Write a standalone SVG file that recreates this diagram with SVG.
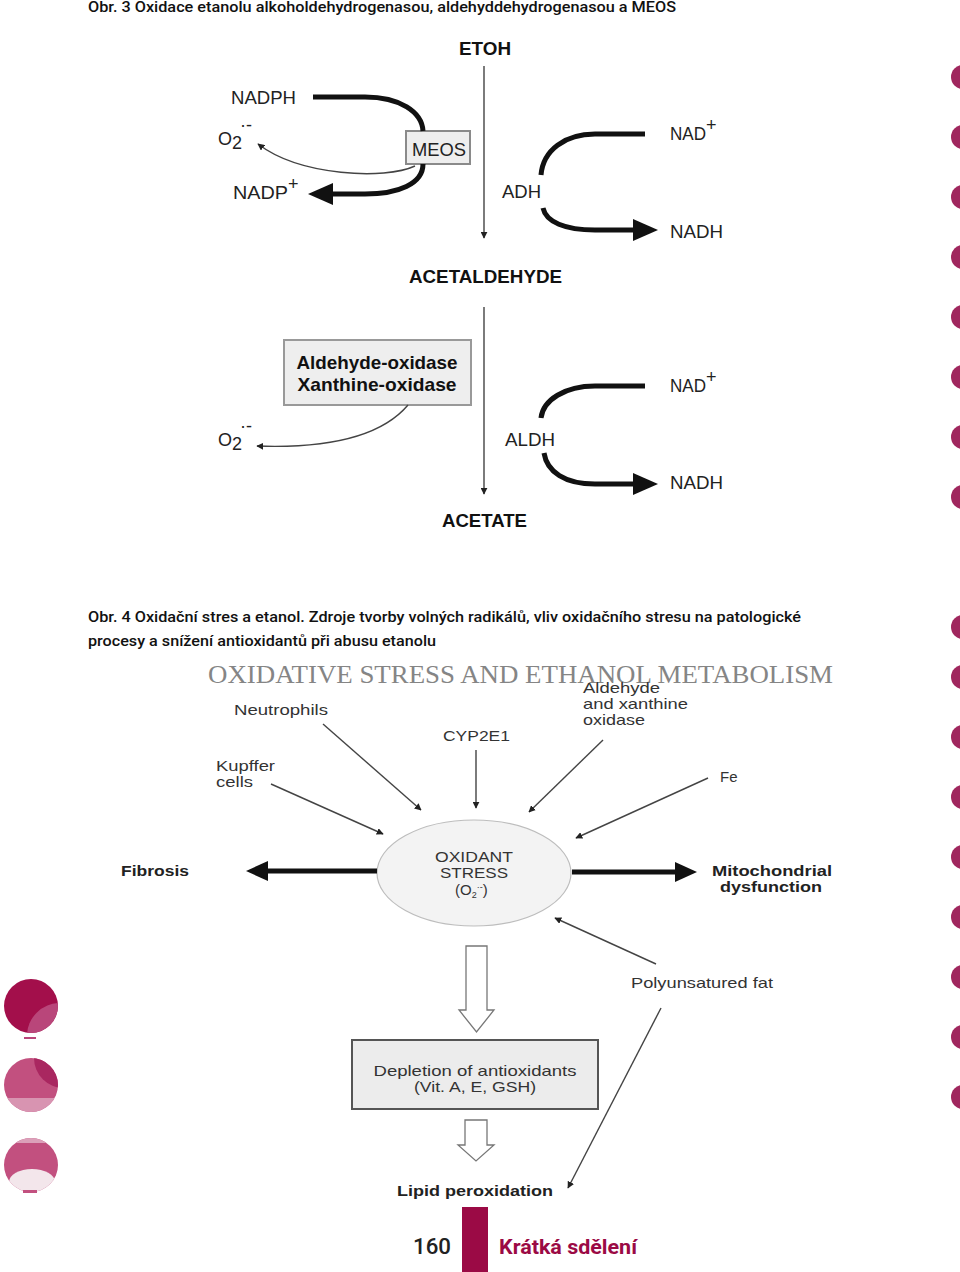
<svg xmlns="http://www.w3.org/2000/svg" width="960" height="1272" viewBox="0 0 960 1272">
<defs>
<style>
.cap{font-family:Roboto,"Liberation Sans",Arial,sans-serif;font-size:15px;font-weight:500;fill:#111}
.lb{font-family:"Liberation Sans",Arial,sans-serif;font-size:18px;fill:#222}
.bd{font-family:"Liberation Sans",Arial,sans-serif;font-size:19px;font-weight:bold;fill:#111}
.l4{font-family:"Liberation Sans",Arial,sans-serif;font-size:15px;fill:#333}
.b4{font-family:"Liberation Sans",Arial,sans-serif;font-size:15px;font-weight:bold;fill:#222}
.thick{fill:none;stroke:#111;stroke-width:5}
.thin{fill:none;stroke:#444;stroke-width:1.4}
.dot{fill:#a0275e}
</style>
<marker id="ah" viewBox="0 0 10 10" refX="9" refY="5" markerWidth="7" markerHeight="7" markerUnits="userSpaceOnUse" orient="auto">
<path d="M0,0 L10,5 L0,10 Z" fill="#222"/>
</marker>
<clipPath id="c1"><circle cx="31" cy="1006" r="27"/></clipPath>
<clipPath id="c2"><circle cx="31" cy="1085" r="27"/></clipPath>
<clipPath id="c3"><circle cx="31" cy="1165" r="27"/></clipPath>
</defs>
<rect width="960" height="1272" fill="#fff"/>

<!-- captions -->
<text class="cap" x="88" y="12" textLength="588" lengthAdjust="spacingAndGlyphs">Obr. 3 Oxidace etanolu alkoholdehydrogenasou, aldehyddehydrogenasou a MEOS</text>
<text class="cap" x="88" y="622" textLength="713" lengthAdjust="spacingAndGlyphs">Obr. 4 Oxidační stres a etanol. Zdroje tvorby volných radikálů, vliv oxidačního stresu na patologické</text>
<text class="cap" x="88" y="646" textLength="348" lengthAdjust="spacingAndGlyphs">procesy a snížení antioxidantů při abusu etanolu</text>

<!-- right dots -->
<g id="dots">
<circle class="dot" cx="963" cy="77" r="12"/><circle class="dot" cx="963" cy="137" r="12"/>
<circle class="dot" cx="963" cy="197" r="12"/><circle class="dot" cx="963" cy="257" r="12"/>
<circle class="dot" cx="963" cy="317" r="12"/><circle class="dot" cx="963" cy="377" r="12"/>
<circle class="dot" cx="963" cy="437" r="12"/><circle class="dot" cx="963" cy="497" r="12"/>
<circle class="dot" cx="963" cy="627" r="12"/><circle class="dot" cx="963" cy="677" r="12"/>
<circle class="dot" cx="963" cy="737" r="12"/><circle class="dot" cx="963" cy="797" r="12"/>
<circle class="dot" cx="963" cy="857" r="12"/><circle class="dot" cx="963" cy="917" r="12"/>
<circle class="dot" cx="963" cy="977" r="12"/><circle class="dot" cx="963" cy="1037" r="12"/>
<circle class="dot" cx="963" cy="1097" r="12"/>
</g>

<!-- left decorative circles -->
<g id="circles">
<circle cx="31" cy="1006" r="27" fill="#a30f4b"/>
<g clip-path="url(#c1)"><circle cx="60" cy="1036" r="33" fill="#b9467a"/><circle cx="62" cy="1040" r="14" fill="#a51550"/></g>
<rect x="24" y="1037" width="12" height="2" fill="#b9467a"/>
<circle cx="31" cy="1085" r="27" fill="#c2507f"/>
<g clip-path="url(#c2)"><circle cx="64" cy="1058" r="30" fill="#a92760"/><rect x="0" y="1098" width="60" height="20" fill="#d894b1"/></g>
<circle cx="31" cy="1165" r="27" fill="#c2507f"/>
<g clip-path="url(#c3)"><rect x="0" y="1136" width="60" height="7" fill="#dba0b9"/><ellipse cx="32" cy="1182" rx="23" ry="13" fill="#f3e6eb"/></g>
<rect x="23" y="1190" width="14" height="3" fill="#c2507f"/>
</g>

<!-- Figure 3 nodes -->
<g id="etoh"><text class="bd" x="459" y="55" textLength="52" lengthAdjust="spacingAndGlyphs">ETOH</text></g>
<g id="acetaldehyde"><text class="bd" x="409" y="283" textLength="153" lengthAdjust="spacingAndGlyphs">ACETALDEHYDE</text></g>
<g id="acetate"><text class="bd" x="442" y="527" textLength="85" lengthAdjust="spacingAndGlyphs">ACETATE</text></g>
<g id="nadph"><text class="lb" x="231" y="104" textLength="65" lengthAdjust="spacingAndGlyphs">NADPH</text></g>
<g id="nadp"><text class="lb" x="233" y="199" textLength="55" lengthAdjust="spacingAndGlyphs">NADP</text><text class="lb" x="288" y="190" font-size="13">+</text></g>
<g id="o2a"><text class="lb" x="218" y="145">O</text><text class="lb" x="232" y="149" font-size="11">2</text><text class="lb" x="240" y="131" font-size="12">·-</text></g>
<g id="meos"><rect x="406" y="131" width="64" height="33" fill="#eeeeee" stroke="#8a8a8a" stroke-width="2"/><text class="lb" x="412" y="156" textLength="54" lengthAdjust="spacingAndGlyphs">MEOS</text></g>
<g id="nad1"><text class="lb" x="670" y="140" textLength="36" lengthAdjust="spacingAndGlyphs">NAD</text><text class="lb" x="706" y="131" font-size="13">+</text></g>
<g id="nadh1"><text class="lb" x="670" y="238" textLength="53" lengthAdjust="spacingAndGlyphs">NADH</text></g>
<g id="adh"><text class="lb" x="502" y="198" textLength="39" lengthAdjust="spacingAndGlyphs">ADH</text></g>
<g id="oxidases"><rect x="284" y="340" width="187" height="65" fill="#eeeeee" stroke="#999" stroke-width="2"/>
<text class="bd" x="377" y="369" text-anchor="middle" textLength="161" lengthAdjust="spacingAndGlyphs">Aldehyde-oxidase</text>
<text class="bd" x="377" y="391" text-anchor="middle" textLength="159" lengthAdjust="spacingAndGlyphs">Xanthine-oxidase</text></g>
<g id="o2b"><text class="lb" x="218" y="446">O</text><text class="lb" x="232" y="450" font-size="11">2</text><text class="lb" x="240" y="432" font-size="12">·-</text></g>
<g id="nad2"><text class="lb" x="670" y="392" textLength="36" lengthAdjust="spacingAndGlyphs">NAD</text><text class="lb" x="706" y="383" font-size="13">+</text></g>
<g id="nadh2"><text class="lb" x="670" y="489" textLength="53" lengthAdjust="spacingAndGlyphs">NADH</text></g>
<g id="aldh"><text class="lb" x="505" y="446" textLength="50" lengthAdjust="spacingAndGlyphs">ALDH</text></g>

<!-- Figure 4 nodes -->
<g id="title4"><text x="208" y="683" font-family="'Liberation Serif','Times New Roman',serif" font-size="26" fill="#858585" textLength="625" lengthAdjust="spacingAndGlyphs">OXIDATIVE STRESS AND ETHANOL METABOLISM</text></g>
<g id="neutrophils"><text class="l4" x="234" y="715" textLength="94" lengthAdjust="spacingAndGlyphs">Neutrophils</text></g>
<g id="cyp"><text class="l4" x="443" y="741" textLength="67" lengthAdjust="spacingAndGlyphs">CYP2E1</text></g>
<g id="aldxan"><text class="l4" x="583" y="693" textLength="77" lengthAdjust="spacingAndGlyphs">Aldehyde</text><text class="l4" x="583" y="709" textLength="105" lengthAdjust="spacingAndGlyphs">and xanthine</text><text class="l4" x="583" y="725" textLength="62" lengthAdjust="spacingAndGlyphs">oxidase</text></g>
<g id="kupffer"><text class="l4" x="216" y="771" textLength="59" lengthAdjust="spacingAndGlyphs">Kupffer</text><text class="l4" x="216" y="787" textLength="37" lengthAdjust="spacingAndGlyphs">cells</text></g>
<g id="fe"><text class="l4" x="720" y="782">Fe</text></g>
<g id="oxidant"><ellipse cx="474" cy="873" rx="97" ry="53" fill="#f3f3f3" stroke="#bdbdbd" stroke-width="1.2"/>
<text class="l4" x="474" y="862" text-anchor="middle" textLength="78" lengthAdjust="spacingAndGlyphs">OXIDANT</text>
<text class="l4" x="474" y="878" text-anchor="middle" textLength="68" lengthAdjust="spacingAndGlyphs">STRESS</text>
<text class="l4" x="455" y="895">(O<tspan font-size="9" dy="3">2</tspan><tspan font-size="9" dy="-8">·-</tspan><tspan dy="5">)</tspan></text></g>
<g id="fibrosis"><text class="b4" x="121" y="876" textLength="68" lengthAdjust="spacingAndGlyphs">Fibrosis</text></g>
<g id="mito"><text class="b4" x="712" y="876" textLength="120" lengthAdjust="spacingAndGlyphs">Mitochondrial</text><text class="b4" x="720" y="892" textLength="102" lengthAdjust="spacingAndGlyphs">dysfunction</text></g>
<g id="pufa"><text class="l4" x="631" y="988" textLength="142" lengthAdjust="spacingAndGlyphs">Polyunsatured fat</text></g>
<g id="depletion"><rect x="352" y="1040" width="246" height="69" fill="#ececec" stroke="#555" stroke-width="2"/>
<text class="l4" x="475" y="1076" text-anchor="middle" textLength="203" lengthAdjust="spacingAndGlyphs">Depletion of antioxidants</text>
<text class="l4" x="475" y="1092" text-anchor="middle" textLength="122" lengthAdjust="spacingAndGlyphs">(Vit. A, E, GSH)</text></g>
<g id="lipid"><text class="b4" x="397" y="1196" textLength="156" lengthAdjust="spacingAndGlyphs">Lipid peroxidation</text></g>

<!-- connectors -->
<g id="connectors">
<line class="thin" x1="484" y1="66" x2="484" y2="238" marker-end="url(#ah)"/>
<line class="thin" x1="484" y1="307" x2="484" y2="494" marker-end="url(#ah)"/>
<path class="thick" d="M313,97 L365,97 C400,97 422,112 423,131"/>
<path class="thick" d="M423,164 C423,184 398,194 365,194 L330,194"/>
<polygon points="308,194 333,183 333,205" fill="#111"/>
<path class="thin" d="M415,166 C385,180 300,176 258,144" marker-end="url(#ah)"/>
<path class="thick" d="M645,134 L595,134 C565,134 543,150 541,175"/>
<path class="thick" d="M543,208 C546,222 565,230 595,230 L635,230"/>
<polygon points="658,230 633,219 633,241" fill="#111"/>
<path class="thin" d="M408,405 Q370,450 257,446" marker-end="url(#ah)"/>
<path class="thick" d="M645,386 L595,386 C565,386 543,400 541,418"/>
<path class="thick" d="M544,453 C547,472 565,484 595,484 L635,484"/>
<polygon points="658,484 633,473 633,495" fill="#111"/>

<line class="thin" x1="323" y1="724" x2="421" y2="810" marker-end="url(#ah)"/>
<line class="thin" x1="476" y1="750" x2="476" y2="808" marker-end="url(#ah)"/>
<line class="thin" x1="603" y1="740" x2="529" y2="812" marker-end="url(#ah)"/>
<line class="thin" x1="271" y1="784" x2="383" y2="834" marker-end="url(#ah)"/>
<line class="thin" x1="708" y1="778" x2="576" y2="838" marker-end="url(#ah)"/>
<line class="thin" x1="656" y1="964" x2="555" y2="918" marker-end="url(#ah)"/>
<line class="thin" x1="661" y1="1008" x2="568" y2="1188" marker-end="url(#ah)"/>
<line class="thick" x1="377" y1="871" x2="265" y2="871"/>
<polygon points="246,871 268,861 268,881" fill="#111"/>
<line class="thick" x1="572" y1="872" x2="677" y2="872"/>
<polygon points="697,872 675,862 675,882" fill="#111"/>
<path d="M466,946 H487 V1010 H494 L476.5,1032 L459,1010 H466 Z" fill="#fff" stroke="#777" stroke-width="1.3"/>
<path d="M465,1120 H487 V1145 H494 L476,1161 L458,1145 H465 Z" fill="#fff" stroke="#777" stroke-width="1.3"/>
</g>

<!-- footer -->
<g id="footer">
<rect x="462" y="1207" width="26" height="65" fill="#9b0a45"/>
<text x="413" y="1254" font-family="Roboto,'Liberation Sans',Arial,sans-serif" font-size="22" font-weight="500" fill="#222" textLength="38" lengthAdjust="spacingAndGlyphs">160</text>
<text x="499" y="1254" font-family="Roboto,'Liberation Sans',Arial,sans-serif" font-size="20" font-weight="bold" fill="#9b0a45" textLength="138" lengthAdjust="spacingAndGlyphs">Krátká sdělení</text>
</g>
</svg>
